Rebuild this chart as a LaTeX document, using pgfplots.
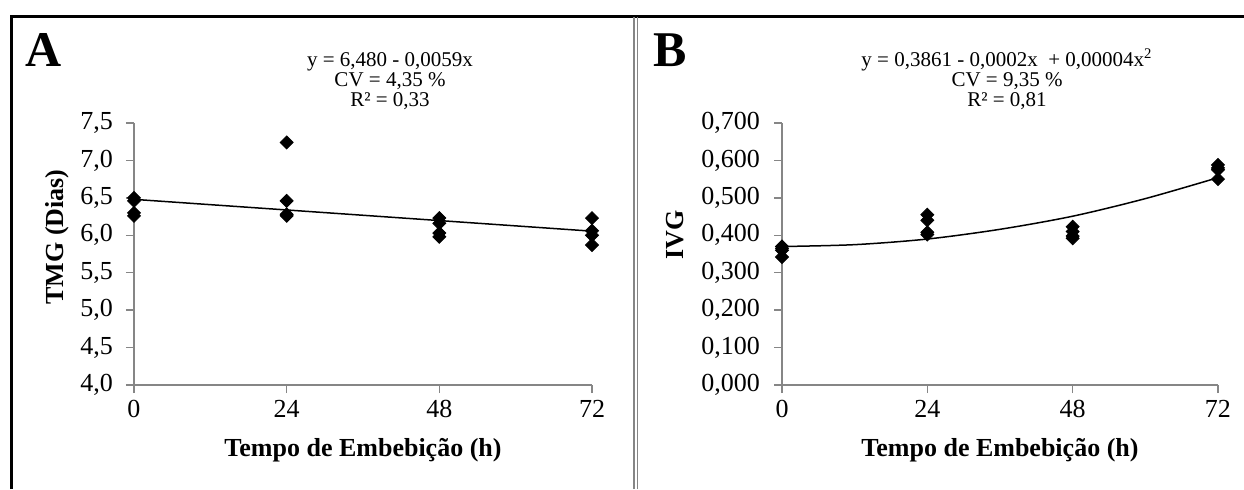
\documentclass[border=0pt]{standalone}
\usepackage{fontspec}
\setmainfont{Liberation Serif}
\usepackage{pgfplots}
\pgfplotsset{compat=1.18}

\definecolor{axgray}{RGB}{134,134,134}

% 1 px of the reference = 0.5pt
\pgfplotsset{
  painel/.style={
    scale only axis, anchor=south west,
    axis x line*=bottom, axis y line*=left,
    axis line style={axgray, line width=0.75pt},
    every tick/.style={axgray, line width=0.75pt},
    major tick length=4pt, tick align=outside,
    xmin=0, xmax=72, xtick={0,24,48,72},
    clip=false,
    /pgf/number format/assume math mode=true,
    /pgf/number format/use comma,
    tick label style={font=\fontsize{13}{15}\selectfont},
    label style={font=\fontsize{13}{15}\selectfont\bfseries},
    xlabel={Tempo de Embebição (h)},
  },
  pontos/.style={only marks, mark=square*, mark size=2.3pt,
    mark options={rotate=45, fill=black, draw=black}},
  ajuste/.style={black, line width=0.75pt, no marks},
}

\begin{document}
\begin{tikzpicture}
\useasboundingbox (0,0) rectangle (622pt,244.5pt);

% moldura
\draw[line width=1.5pt] (5.5pt,0) -- (5.5pt,236.5pt) -- (622pt,236.5pt);
\draw[axgray, line width=0.7pt] (317pt,0) -- (317pt,235.8pt);
\draw[axgray, line width=0.7pt] (318.8pt,0) -- (318.8pt,235.8pt);

% ---------- A ----------
\begin{axis}[painel,
  at={(67pt,52pt)}, width=229pt, height=131pt,
  ymin=4, ymax=7.5, ytick={4,4.5,...,7.5},
  yticklabel style={xshift=-3pt, /pgf/number format/.cd, fixed, fixed zerofill, precision=1},
  ylabel={TMG (Dias)},
  xlabel style={at={(axis description cs:0.5,-0.248)}, anchor=center},
  ylabel style={at={(axis description cs:-0.168,0.565)}, anchor=center, rotate=0},
]
\addplot[ajuste] coordinates {(0,6.480) (72,6.055)};
\addplot[pontos] coordinates {
  (0,6.50) (0,6.46) (0,6.30) (0,6.26)
  (24,7.24) (24,6.46) (24,6.28) (24,6.26)
  (48,6.23) (48,6.16) (48,6.03) (48,5.98)
  (72,6.23) (72,6.06) (72,6.00) (72,5.87)
};
\end{axis}

% ---------- B ----------
\begin{axis}[painel,
  at={(391pt,52pt)}, width=218pt, height=131pt,
  ymin=0, ymax=0.7, ytick={0,0.1,...,0.7},
  yticklabel style={xshift=-3.5pt, /pgf/number format/.cd, fixed, fixed zerofill, precision=3},
  ylabel={IVG},
  xlabel style={at={(axis description cs:0.5,-0.248)}, anchor=center},
  ylabel style={at={(axis description cs:-0.245,0.573)}, anchor=center, rotate=0},
]
\addplot[ajuste, smooth] coordinates {
  (0,0.370) (12,0.375) (24,0.390) (36,0.416) (48,0.451) (60,0.498) (72,0.554)
};
\addplot[pontos] coordinates {
  (0,0.370) (0,0.365) (0,0.360) (0,0.342)
  (24,0.455) (24,0.440) (24,0.408) (24,0.402)
  (48,0.423) (48,0.410) (48,0.398) (48,0.392)
  (72,0.588) (72,0.580) (72,0.575) (72,0.550)
};
\end{axis}

% letras e equacoes
\node[anchor=base west, inner sep=0, font=\fontsize{25}{28}\selectfont\bfseries] at (12.5pt,211.5pt) {A};
\node[anchor=base west, inner sep=0, font=\fontsize{25}{28}\selectfont\bfseries] at (326.5pt,211.5pt) {B};

\begin{scope}[every node/.style={anchor=base, inner sep=0, font=\fontsize{10.5}{12}\selectfont}]
\node at (195pt,211.5pt) {y = 6,480 - 0,0059x};
\node at (195pt,201.5pt) {CV = 4,35 \%};
\node at (195pt,191.5pt) {R² = 0,33};
\node at (503.5pt,211.5pt) {y = 0,3861 - 0,0002x \ + 0,00004x\textsuperscript{2}};
\node at (503.5pt,201.5pt) {CV = 9,35 \%};
\node at (503.5pt,191.5pt) {R² = 0,81};
\end{scope}
\end{tikzpicture}
\end{document}
